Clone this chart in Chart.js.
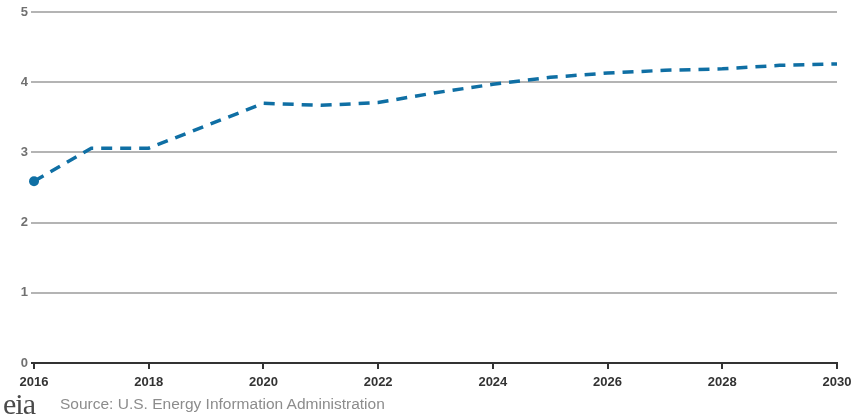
<!DOCTYPE html>
<html>
<head>
<meta charset="utf-8">
<script src="https://cdn.jsdelivr.net/npm/chart.js@4"></script>
<style>
	body { margin: 0; background: #fff; }
	#wrap { position: relative; width: 855px; height: 417px; }
	#logo { position: absolute; left: 3px; top: 390px; font: 30px "Liberation Serif", serif; color: #4a4a4a; letter-spacing: -1px; line-height: 28px; }
	#source { position: absolute; left: 60px; top: 395px; font: 15.5px "Liberation Sans", Arial, sans-serif; color: #8c8c8c; }
</style>
</head>
<body>
<div id="wrap">
	<canvas id="chart" width="855" height="417"></canvas>
	<div id="logo">eia</div>
	<div id="source">Source: U.S. Energy Information Administration</div>
</div>
<script>
const years = [2016, 2017, 2018, 2019, 2020, 2021, 2022, 2023, 2024, 2025, 2026, 2027, 2028, 2029, 2030];
const values = [2.59, 3.06, 3.06, 3.38, 3.70, 3.67, 3.71, 3.85, 3.97, 4.07, 4.13, 4.17, 4.19, 4.24, 4.26];
const yTicks = [0, 1, 2, 3, 4, 5];

function createLineChart(canvasId) {
	const ctx = document.getElementById(canvasId).getContext("2d");
	new Chart(ctx, {
		type: "line",
		data: {
			datasets: [
				{
					data: years.map((yr, i) => ({ x: yr, y: values[i] })),
					borderColor: "#0f6fa4",
					backgroundColor: "#0f6fa4",
					borderWidth: 3.5,
					borderDash: [11, 8],
					pointRadius: years.map((yr, i) => (i === 0 ? 5 : 0)),
					pointBorderWidth: 0,
					clip: false,
					tension: 0,
				},
			],
		},
		options: {
			responsive: false,
			animation: false,
			layout: {
				padding: { top: 12, left: 0, right: 18, bottom: 0 },
			},
			plugins: {
				legend: { display: false },
				tooltip: { enabled: false },
			},
			scales: {
				x: {
					type: "linear",
					min: 2016,
					max: 2030,
					afterBuildTicks: (scale) => {
						scale.ticks = years.filter((yr) => yr % 2 === 0).map((v) => ({ value: v }));
					},
					afterFit: (scale) => {
						scale.height = 54;
						scale.paddingRight = 0;
					},
					grid: {
						drawOnChartArea: false,
						drawTicks: true,
						tickLength: 6,
						color: "#333",
						lineWidth: 2,
					},
					border: { display: true, color: "#333", width: 2 },
					ticks: {
						autoSkip: false,
						maxRotation: 0,
						padding: 6,
						color: "#333",
						font: { family: "Liberation Sans, Arial, sans-serif", size: 13, weight: "bold" },
						callback: (v) => String(v),
					},
				},
				y: {
					min: 0,
					max: 5,
					afterBuildTicks: (scale) => {
						scale.ticks = yTicks.map((v) => ({ value: v }));
					},
					afterFit: (scale) => {
						scale.width = 34;
					},
					grid: {
						color: (c) => (c.tick && c.tick.value === 0 ? "#333" : "#b4b4b4"),
						lineWidth: 2,
						drawTicks: true,
						tickLength: 3,
					},
					border: { display: false },
					ticks: {
						padding: 3,
						color: "#707070",
						font: { family: "Liberation Sans, Arial, sans-serif", size: 13, weight: "bold" },
					},
				},
			},
		},
	});
}

createLineChart("chart");
</script>
</body>
</html>
